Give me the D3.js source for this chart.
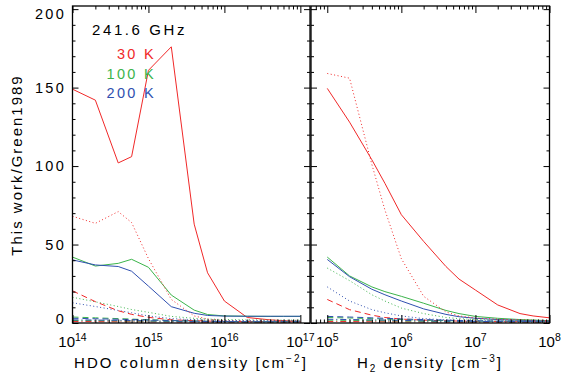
<!DOCTYPE html>
<html>
<head>
<meta charset="utf-8">
<script src="https://cdn.jsdelivr.net/npm/d3@7"></script>
<style>
body { margin: 0; background: #fff; }
text { font-family: "Liberation Sans", Arial, sans-serif; }
</style>
</head>
<body>
<div id="chart"></div>
<script>
// grid of model points
var hdoColumn = [1e14, 2e14, 4e14, 6e14, 1e15, 2e15, 4e15, 6e15, 1e16, 2e16, 4e16, 6e16, 1e17];
var h2Density = [1e5, 2e5, 4e5, 6e5, 1e6, 2e6, 4e6, 6e6, 1e7, 2e7, 4e7, 6e7, 1e8];

var temps = ['30 K', '100 K', '200 K'];
var yTicks = [0, 50, 100, 150, 200];
var colExps = ['14', '15', '16', '17'];
var denExps = ['5', '6', '7', '8'];

// left panel: ratio vs HDO column density
var colSolid30 = [149, 142, 102, 106, 161, 176, 63, 32, 14, 3.5, 2, 1.5, 1];
var colSolid100 = [42, 36.3, 38, 40.6, 35.5, 17.8, 8.2, 5.4, 4.5, 4.3, 4.2, 4.2, 4.2];
var colSolid200 = [40.2, 37, 36, 33, 23.5, 10.4, 6.2, 4.8, 4.4, 4.3, 4.3, 4.3, 4.3];
var colDot30 = [68, 63.5, 71, 64, 41, 15, 4.5, 2.5, 1.6, 1.3, 1.1, 1, 1];
var colDot100 = [16.4, 13.5, 10.5, 8.6, 6.8, 4.2, 3, 2.5, 2.2, 2, 1.9, 1.8, 1.8];
var colDot200 = [12.9, 10.5, 8, 6.5, 4.5, 2.8, 2.1, 1.8, 1.6, 1.5, 1.4, 1.4, 1.4];
var colDash30 = [20.5, 13.6, 7.8, 5.5, 3.6, 2, 1.5, 1.2, 1, 0.9, 0.8, 0.8, 0.8];
var colDash100 = [3.8, 3.3, 2.8, 2.5, 2.1, 1.6, 1.3, 1.1, 1, 0.9, 0.8, 0.8, 0.8];
var colDash200 = [3, 2.7, 2.4, 2.2, 1.9, 1.5, 1.2, 1, 0.9, 0.8, 0.8, 0.7, 0.7];
var colDashDot30 = [1, 0.9, 0.8, 0.8, 0.7, 0.6, 0.5, 0.5, 0.5, 0.5, 0.5, 0.5, 0.5];
var colDashDot100 = [1.6, 1.5, 1.4, 1.3, 1.2, 1, 0.9, 0.8, 0.8, 0.7, 0.7, 0.7, 0.7];
var colDashDot200 = [2, 1.9, 1.7, 1.6, 1.4, 1.2, 1, 0.9, 0.9, 0.8, 0.8, 0.8, 0.8];

// right panel: ratio vs H2 density
var denSolid30 = [149.5, 128, 104, 89, 69, 52, 36, 28, 21, 11.5, 6, 4.5, 3.3];
var denSolid100 = [42, 30, 23, 20, 17, 12.6, 8, 6, 4.2, 3, 2.2, 1.9, 1.5];
var denSolid200 = [40.5, 29.5, 21.5, 18, 14, 9, 5.5, 4, 3, 2.2, 1.7, 1.5, 1.3];
var denDot30 = [159, 156, 101, 72, 41, 17, 7, 4.5, 3.2, 2.4, 2, 1.8, 1.5];
var denDot100 = [35, 27, 18, 14, 9.5, 6, 3.5, 2.8, 2.2, 1.8, 1.5, 1.4, 1.3];
var denDot200 = [23, 14, 8.5, 6.5, 4.5, 2.8, 2, 1.7, 1.5, 1.3, 1.2, 1.1, 1];
var denDash30 = [15, 8.5, 5, 3.5, 2.5, 1.8, 1.4, 1.2, 1, 0.9, 0.8, 0.7, 0.7];
var denDash100 = [3.5, 3.2, 2.8, 2.5, 2.2, 1.8, 1.5, 1.3, 1.2, 1, 0.9, 0.9, 0.8];
var denDash200 = [4.2, 3.8, 3.3, 3, 2.6, 2.2, 1.8, 1.6, 1.4, 1.2, 1.1, 1, 0.9];
var denDashDot30 = [1, 0.9, 0.8, 0.8, 0.7, 0.6, 0.6, 0.5, 0.5, 0.5, 0.5, 0.5, 0.5];
var denDashDot100 = [1.8, 1.7, 1.5, 1.4, 1.3, 1.1, 1, 0.9, 0.8, 0.8, 0.7, 0.7, 0.7];
var denDashDot200 = [2.4, 2.2, 2, 1.9, 1.7, 1.4, 1.2, 1.1, 1, 0.9, 0.9, 0.8, 0.8];

var red = '#f02828',
    green = '#3cb44b',
    blue = '#3050b0';
var colors = [red, green, blue];

var solid = null, dotted = '1,2.5', dashed = '6,4', dashdot = '6,3,1,3';

var svg = d3.select('#chart')
    .append('svg')
        .attr('width', 563)
        .attr('height', 380);

var y = d3.scaleLinear()
    .domain([0, 202])
    .range([323, 6]);

var xCol = d3.scaleLog()
    .domain([1e14, 1.34e17])
    .range([72.5, 310]);

var xDen = d3.scaleLog()
    .domain([6.03e4, 1e8])
    .range([311, 549.5]);

function decades(scale) {
    var d = scale.domain(), out = [];
    for (var e = Math.floor(Math.log10(d[0])); e <= Math.ceil(Math.log10(d[1])); e++) {
        var v = Math.pow(10, e);
        if (v >= d[0] * 0.999 && v <= d[1] * 1.001) out.push(v);
    }
    return out;
}

function minors(scale) {
    var d = scale.domain(), out = [];
    for (var e = Math.floor(Math.log10(d[0])); e <= Math.ceil(Math.log10(d[1])); e++) {
        for (var m = 2; m <= 9; m++) {
            var v = m * Math.pow(10, e);
            if (v > d[0] && v < d[1]) out.push(v);
        }
    }
    return out;
}

function drawPanel(name, x, xs, series) {
    var r = x.range();
    var top = y.range()[1], bottom = y.range()[0];
    var g = svg.append('g');

    g.append('clipPath')
        .attr('id', 'clip-' + name)
      .append('rect')
        .attr('x', r[0])
        .attr('y', top)
        .attr('width', r[1] - r[0])
        .attr('height', bottom - top);

    var line = d3.line()
        .x(function(d, i) { return x(xs[i]); })
        .y(function(d) { return y(d); });

    var lines = g.append('g').attr('clip-path', 'url(#clip-' + name + ')');
    series.forEach(function(s) {
        lines.append('path')
            .attr('d', line(s.values))
            .attr('fill', 'none')
            .attr('stroke', s.color)
            .attr('stroke-width', 1)
            .attr('stroke-dasharray', s.dash);
    });

    // ticks pointing inward on all four sides
    g.append('g').attr('transform', 'translate(0,' + bottom + ')')
        .call(d3.axisBottom(x).tickValues(decades(x)).tickSize(-8).tickFormat(''));
    g.append('g').attr('transform', 'translate(0,' + top + ')')
        .call(d3.axisTop(x).tickValues(decades(x)).tickSize(-7).tickFormat(''));
    g.append('g').attr('transform', 'translate(0,' + bottom + ')')
        .call(d3.axisBottom(x).tickValues(minors(x)).tickSize(-3.5).tickFormat(''));
    g.append('g').attr('transform', 'translate(0,' + top + ')')
        .call(d3.axisTop(x).tickValues(minors(x)).tickSize(-3.5).tickFormat(''));

    var minorY = d3.range(10, 202, 10).filter(function(v) { return v % 50 != 0; });
    g.append('g').attr('transform', 'translate(' + r[0] + ',0)')
        .call(d3.axisLeft(y).tickValues(yTicks).tickSize(-6).tickFormat(''));
    g.append('g').attr('transform', 'translate(' + r[0] + ',0)')
        .call(d3.axisLeft(y).tickValues(minorY).tickSize(-3).tickFormat(''));
    g.append('g').attr('transform', 'translate(' + r[1] + ',0)')
        .call(d3.axisRight(y).tickValues(yTicks).tickSize(-6).tickFormat(''));
    g.append('g').attr('transform', 'translate(' + r[1] + ',0)')
        .call(d3.axisRight(y).tickValues(minorY).tickSize(-3).tickFormat(''));

    g.selectAll('.domain').remove();
    g.selectAll('.tick line').attr('stroke', '#000').attr('stroke-width', 1);

    g.append('rect')
        .attr('x', r[0])
        .attr('y', top)
        .attr('width', r[1] - r[0])
        .attr('height', bottom - top)
        .attr('fill', 'none')
        .attr('stroke', '#000')
        .attr('stroke-width', 1.3);

    return g;
}

function makeSeries(list) {
    var dashes = [solid, dotted, dashed, dashdot];
    var out = [];
    list.forEach(function(row, j) {
        row.forEach(function(vals, i) {
            out.push({ values: vals, color: colors[i], dash: dashes[j] });
        });
    });
    return out;
}

drawPanel('col', xCol, hdoColumn, makeSeries([
    [colSolid30, colSolid100, colSolid200],
    [colDot30, colDot100, colDot200],
    [colDash30, colDash100, colDash200],
    [colDashDot30, colDashDot100, colDashDot200]
]));

drawPanel('den', xDen, h2Density, makeSeries([
    [denSolid30, denSolid100, denSolid200],
    [denDot30, denDot100, denDot200],
    [denDash30, denDash100, denDash200],
    [denDashDot30, denDashDot100, denDashDot200]
]));

// power-of-ten tick labels
function powLabels(x, exps) {
    decades(x).forEach(function(v, i) {
        var t = svg.append('text')
            .attr('x', x(v))
            .attr('y', 347)
            .attr('text-anchor', 'middle')
            .style('font-size', '15px');
        t.append('tspan').text('10');
        t.append('tspan').attr('dy', -6).style('font-size', '10.5px').text(exps[i]);
    });
}
powLabels(xCol, colExps);
powLabels(xDen, denExps);

// y labels, end ones kept inside the frame
yTicks.forEach(function(v) {
    svg.append('text')
        .attr('x', 66)
        .attr('y', Math.min(Math.max(y(v), 14), 319))
        .attr('dy', '0.36em')
        .attr('text-anchor', 'end')
        .style('font-size', '14.5px')
        .style('letter-spacing', '2.3px')
        .text(v);
});

// axis titles
var t1 = svg.append('text')
    .attr('x', 191)
    .attr('y', 368)
    .attr('text-anchor', 'middle')
    .style('font-size', '15px')
    .style('letter-spacing', '2.1px');
t1.append('tspan').text('HDO column density [cm');
t1.append('tspan').attr('dy', -6).style('font-size', '10px').text('\u22122');
t1.append('tspan').attr('dy', 6).text(']');

var t2 = svg.append('text')
    .attr('x', 430)
    .attr('y', 368)
    .attr('text-anchor', 'middle')
    .style('font-size', '15px')
    .style('letter-spacing', '2px');
t2.append('tspan').text('H');
t2.append('tspan').attr('dy', 4).style('font-size', '10px').text('2');
t2.append('tspan').attr('dy', -4).text(' density [cm');
t2.append('tspan').attr('dy', -6).style('font-size', '10px').text('\u22123');
t2.append('tspan').attr('dy', 6).text(']');

svg.append('text')
    .attr('transform', 'translate(22,165) rotate(-90)')
    .attr('text-anchor', 'middle')
    .style('font-size', '15px')
    .style('letter-spacing', '2px')
    .text('This work/Green1989');

// annotation
svg.append('text')
    .attr('x', 92)
    .attr('y', 35)
    .style('font-size', '15px')
    .style('letter-spacing', '2.6px')
    .text('241.6 GHz');

temps.forEach(function(t, i) {
    svg.append('text')
        .attr('x', 156)
        .attr('y', 59 + i * 19.5)
        .attr('text-anchor', 'end')
        .style('font-size', '14.5px')
        .style('letter-spacing', '2.3px')
        .style('fill', colors[i])
        .text(t);
});
</script>
</body>
</html>
